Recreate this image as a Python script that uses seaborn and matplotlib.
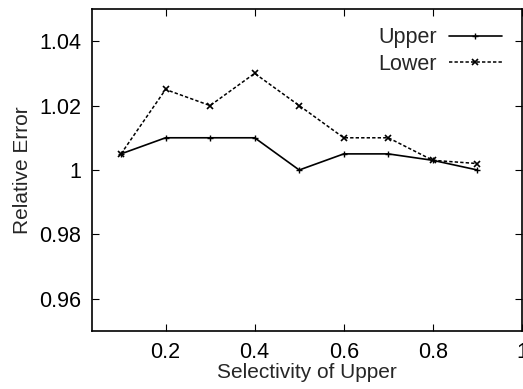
import matplotlib
matplotlib.use("Agg")
import matplotlib.pyplot as plt
import seaborn as sns
import pandas as pd

selectivity = [0.1, 0.2, 0.3, 0.4, 0.5, 0.6, 0.7, 0.8, 0.9]
upper = [1.005, 1.01, 1.01, 1.01, 1.0, 1.005, 1.005, 1.003, 1.0]
lower = [1.005, 1.025, 1.02, 1.03, 1.02, 1.01, 1.01, 1.003, 1.002]
series_names = ["Upper", "Lower"]
xticks = [0.2, 0.4, 0.6, 0.8, 1.0]
xticklabels = ["0.2", "0.4", "0.6", "0.8", "1"]
yticks = [0.96, 0.98, 1.0, 1.02, 1.04]
yticklabels = ["0.96", "0.98", "1", "1.02", "1.04"]

df_up = pd.DataFrame({"x": selectivity, "y": upper})
df_lo = pd.DataFrame({"x": selectivity, "y": lower})

sns.set_style("ticks")
plt.rcParams["font.family"] = ["Liberation Sans", "DejaVu Sans"]

fig = plt.figure(figsize=(5.23, 3.89), dpi=100)
ax = fig.add_axes([0.176, 0.149, 0.822, 0.828])

sns.lineplot(data=df_up, x="x", y="y", ax=ax, color="black",
             linewidth=1.2, linestyle="-", marker="+", markersize=5,
             markeredgewidth=1.0, markeredgecolor="black",
             label=series_names[0])
sns.lineplot(data=df_lo, x="x", y="y", ax=ax, color="black",
             linewidth=1.1, linestyle=(0, (2.2, 1.4)), marker="x",
             markersize=5, markeredgewidth=1.2, markeredgecolor="black",
             label=series_names[1])

ax.set_xlim(0.035, 1.0)
ax.set_ylim(0.95, 1.05)
ax.set_xticks(xticks)
ax.set_xticklabels(xticklabels)
ax.set_yticks(yticks)
ax.set_yticklabels(yticklabels)
ax.tick_params(direction="in", length=5, width=0.8, labelsize=15.5,
               top=True, right=True, colors="black")
ax.tick_params(axis="x", pad=8)
ax.tick_params(axis="y", pad=8)
for s in ax.spines.values():
    s.set_linewidth(1.2)
    s.set_color("black")
ax.set_xlabel("Selectivity of Upper", fontsize=15, labelpad=0)
ax.set_ylabel("Relative Error", fontsize=15, labelpad=5)

leg = ax.legend(loc="upper right", frameon=False, markerfirst=False,
                fontsize=15.5, handlelength=2.5, handletextpad=0.55,
                labelspacing=0.25, borderaxespad=0.45,
                bbox_to_anchor=(0.997, 1.0))

fig.savefig("out.png", dpi=100)
